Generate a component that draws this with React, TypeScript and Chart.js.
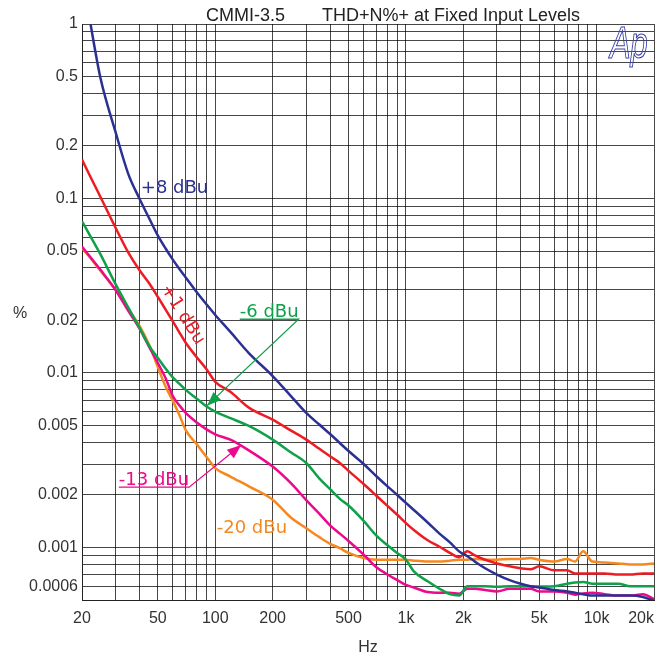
import React, { useEffect, useRef } from 'react';
import { Chart, registerables } from 'chart.js';

Chart.register(...registerables);

// ---------------- data ----------------
const frequencies = [
  20, 22, 25, 30, 35, 40, 45, 50, 55, 60,
  65, 70, 80, 90, 100, 120, 150, 200, 250, 300,
  350, 400, 450, 500, 600, 700, 800, 900, 1000, 1100,
  1300, 1500, 1700, 1900, 2100, 2300, 2600, 3000, 3500, 4000,
  4500, 5000, 6000, 7000, 7700, 8500, 9500, 11000, 13000, 15000,
  17500, 20000,
];

const plus8dBu = [
  1.95, 1.05, 0.49, 0.24, 0.138, 0.1, 0.077, 0.0612, 0.0515, 0.0445,
  0.0393, 0.0353, 0.029, 0.0247, 0.0215, 0.0172, 0.013, 0.0096, 0.00735, 0.0059,
  0.00508, 0.00447, 0.00397, 0.00357, 0.00301, 0.00256, 0.00224, 0.002, 0.0018, 0.00164,
  0.00139, 0.0012, 0.00107, 0.00095, 0.00089, 0.00083, 0.00076, 0.0007, 0.00065, 0.00062,
  0.0006, 0.00059, 0.00057, 0.00056, 0.00055, 0.00054, 0.00053, 0.00053, 0.00053, 0.00053,
  0.00052, 0.000495,
];

const plus1dBu = [
  0.167, 0.135, 0.102, 0.068, 0.049, 0.0389, 0.0327, 0.0273, 0.023, 0.0197,
  0.017, 0.0149, 0.0123, 0.0105, 0.0089, 0.0078, 0.00633, 0.0054, 0.00467, 0.00415,
  0.00369, 0.00333, 0.00305, 0.00275, 0.00231, 0.00198, 0.00173, 0.00154, 0.00138, 0.00126,
  0.0011, 0.00101, 0.00093, 0.00088, 0.00095, 0.0009, 0.00085, 0.00081, 0.00078, 0.00076,
  0.00075, 0.00078, 0.00074, 0.00074, 0.00071, 0.00071, 0.00071, 0.00071, 0.0007, 0.0007,
  0.00071, 0.00071,
];

const minus6dBu = [
  0.074, 0.0615, 0.0478, 0.0323, 0.0237, 0.0182, 0.0143, 0.0122, 0.01056, 0.0094,
  0.00865, 0.008, 0.00712, 0.00643, 0.006, 0.00551, 0.00497, 0.00415, 0.0035, 0.00305,
  0.0025, 0.00216, 0.0019, 0.00174, 0.00142, 0.00117, 0.00103, 0.00093, 0.00085, 0.00073,
  0.00064, 0.00058, 0.00054, 0.00053, 0.0006, 0.0006, 0.0006, 0.000595, 0.0006, 0.0006,
  0.0006, 0.000597, 0.0006, 0.00062, 0.00063, 0.000635, 0.00062, 0.00062, 0.00062, 0.0006,
  0.0006, 0.0006,
];

const minus13dBu = [
  0.053, 0.0465, 0.039, 0.0299, 0.0227, 0.018, 0.0141, 0.0114, 0.0093, 0.00734,
  0.0065, 0.0059, 0.0052, 0.00475, 0.00445, 0.00415, 0.0036, 0.00291, 0.00233, 0.00187,
  0.00157, 0.00134, 0.0012, 0.00109, 0.00091, 0.00077, 0.0007, 0.00065, 0.00061, 0.00059,
  0.000555, 0.00055, 0.00055, 0.000543, 0.00058, 0.00058, 0.00057, 0.00056, 0.00058, 0.00058,
  0.00058, 0.00056, 0.00056, 0.00055, 0.000536, 0.000545, 0.00055, 0.00054, 0.00053, 0.00053,
  0.00054, 0.000505,
];

const minus20dBu = [
  0.052, 0.046, 0.0385, 0.03, 0.0232, 0.0187, 0.0145, 0.0108, 0.0083, 0.0069,
  0.0057, 0.0047, 0.0039, 0.0033, 0.00285, 0.00255, 0.00224, 0.00188, 0.00148, 0.00129,
  0.00115, 0.00105, 0.00099, 0.00093, 0.00087, 0.00085, 0.00085, 0.00085, 0.00085, 0.00084,
  0.00083, 0.00083, 0.00084, 0.00085, 0.00085, 0.00086, 0.00085, 0.00085, 0.00086, 0.00086,
  0.00087, 0.00085, 0.00083, 0.00086, 0.00083, 0.00095, 0.00083, 0.00082, 0.00081, 0.0008,
  0.0008, 0.00081,
];

const seriesNames = ['+8 dBu', '+1 dBu', '-6 dBu', '-13 dBu', '-20 dBu'];

const xLabelValues = [20, 50, 100, 200, 500, 1000, 2000, 5000, 10000, 20000];
const xLabelTexts = ['20', '50', '100', '200', '500', '1k', '2k', '5k', '10k', '20k'];

const yLabelValues = [1, 0.5, 0.2, 0.1, 0.05, 0.02, 0.01, 0.005, 0.002, 0.001, 0.0006];
const yLabelTexts = ['1', '0.5', '0.2', '0.1', '0.05', '0.02', '0.01', '0.005', '0.002', '0.001', '0.0006'];

const titleModel = 'CMMI-3.5';
const titleText = 'THD+N%+ at Fixed Input Levels';
const xAxisTitle = 'Hz';
const yAxisTitle = '%';
const logoText = 'Ap';

// ---------------- styles ----------------
const BLUE = '#2b3192';
const RED = '#ed1c24';
const GREEN = '#0fa04a';
const MAGENTA = '#ec098c';
const ORANGE = '#f7881f';
const seriesColors = [BLUE, RED, GREEN, MAGENTA, ORANGE];
const seriesValues = [plus8dBu, plus1dBu, minus6dBu, minus13dBu, minus20dBu];

// curve annotations, placed in data coordinates (Hz, %)
const curveLabels = [
  { text: '+8 dBu', color: BLUE, at: [40.7, 0.1077] },
  { text: '+1 dBu', color: RED, at: [67.4, 0.0216], angle: 58 },
  { text: '-6 dBu', color: GREEN, at: [134.4, 0.021], arrowTo: [90.6, 0.0065] },
  { text: '-13 dBu', color: MAGENTA, at: [31.2, 0.00229], arrowTo: [136.8, 0.00386] },
  { text: '-20 dBu', color: ORANGE, at: [101.8, 0.00121] },
];

const TEXT_FONT = '"Liberation Sans", Arial, Helvetica, sans-serif';
const LABEL_FONT = '"DejaVu Sans", "Liberation Sans", sans-serif';

function near(a: number, b: number) {
  return Math.abs(a - b) <= Math.abs(b) * 1e-6;
}

function decadeTicks(min: number, max: number, eMin: number, eMax: number) {
  const out: number[] = [];
  for (let e = eMin; e <= eMax; e++) {
    for (let m = 1; m <= 9; m++) {
      const v = Number((m * Math.pow(10, e)).toPrecision(8));
      if (v >= min * (1 - 1e-9) && v <= max * (1 + 1e-9)) out.push(v);
    }
  }
  return out;
}

const decorPlugin = {
  id: 'decor',
  afterDatasetsDraw(chart: any) {
    const { ctx, scales } = chart;
    const xs = scales.x;
    const ys = scales.y;
    ctx.save();
    ctx.font = `18px ${LABEL_FONT}`;
    for (const lab of curveLabels as any[]) {
      const px = xs.getPixelForValue(lab.at[0]);
      const py = ys.getPixelForValue(lab.at[1]);
      ctx.fillStyle = lab.color;
      ctx.strokeStyle = lab.color;
      if (lab.angle) {
        ctx.save();
        ctx.translate(px, py);
        ctx.rotate((lab.angle * Math.PI) / 180);
        ctx.textAlign = 'center';
        ctx.textBaseline = 'middle';
        ctx.fillText(lab.text, 0, 0);
        ctx.restore();
        continue;
      }
      ctx.textAlign = 'left';
      ctx.textBaseline = 'alphabetic';
      ctx.fillText(lab.text, px, py);
      if (lab.arrowTo) {
        const w = ctx.measureText(lab.text).width;
        const uy = py + 2.5;
        const sx = px + w;
        const tx = xs.getPixelForValue(lab.arrowTo[0]);
        const ty = ys.getPixelForValue(lab.arrowTo[1]);
        ctx.lineWidth = 1.3;
        ctx.beginPath();
        ctx.moveTo(px, uy);
        ctx.lineTo(sx, uy);
        ctx.lineTo(tx, ty);
        ctx.stroke();
        const ang = Math.atan2(ty - uy, tx - sx);
        const L = 14;
        const H = 5.5;
        ctx.beginPath();
        ctx.moveTo(tx, ty);
        ctx.lineTo(tx - L * Math.cos(ang) + H * Math.sin(ang), ty - L * Math.sin(ang) - H * Math.cos(ang));
        ctx.lineTo(tx - L * Math.cos(ang) - H * Math.sin(ang), ty - L * Math.sin(ang) + H * Math.cos(ang));
        ctx.closePath();
        ctx.fill();
      }
    }
    ctx.restore();
  },
  afterDraw(chart: any) {
    const { ctx, chartArea } = chart;
    ctx.save();
    // title
    ctx.fillStyle = '#222';
    ctx.font = `18px ${TEXT_FONT}`;
    ctx.textAlign = 'left';
    ctx.textBaseline = 'alphabetic';
    ctx.fillText(titleModel, chartArea.left + 124, chartArea.top - 3);
    ctx.fillText(titleText, chartArea.left + 240, chartArea.top - 3);
    // y axis title (upright)
    ctx.font = `16px ${TEXT_FONT}`;
    ctx.fillStyle = '#333';
    ctx.textAlign = 'center';
    ctx.textBaseline = 'middle';
    ctx.fillText(yAxisTitle, chartArea.left - 62, (chartArea.top + chartArea.bottom) / 2 + 2);
    // logo
    ctx.save();
    ctx.translate(chartArea.right - 44, chartArea.top + 33.5);
    ctx.scale(0.7, 1);
    ctx.font = `italic 44px ${TEXT_FONT}`;
    ctx.textAlign = 'left';
    ctx.textBaseline = 'alphabetic';
    ctx.strokeStyle = '#3a3fa8';
    ctx.lineWidth = 1.2;
    ctx.strokeText(logoText, 0, 0);
    ctx.restore();
    ctx.restore();
  },
};

export default function App() {
  const canvasRef = useRef<HTMLCanvasElement | null>(null);

  useEffect(() => {
    const canvas = canvasRef.current;
    if (!canvas) return;
    const gridColor = 'rgba(0,0,0,0.72)';
    const chart = new Chart(canvas, {
      type: 'line',
      data: {
        datasets: seriesValues.map((vals, i) => ({
          label: seriesNames[i],
          data: frequencies.map((f, j) => ({ x: f, y: vals[j] })),
          borderColor: seriesColors[i],
          backgroundColor: seriesColors[i],
          borderWidth: 2.5,
          pointRadius: 0,
          cubicInterpolationMode: 'monotone' as const,
          fill: false,
        })),
      },
      options: {
        responsive: false,
        animation: false,
        events: [],
        layout: { padding: { top: 24, right: 16, left: 0, bottom: 0 } },
        plugins: {
          legend: { display: false },
          tooltip: { enabled: false },
          title: { display: false },
        },
        scales: {
          x: {
            type: 'logarithmic',
            min: 20,
            max: 20000,
            afterBuildTicks: (scale: any) => {
              // leading spacer tick so that "inner" alignment only right-aligns the last label
              const vals = [20, ...decadeTicks(20, 20000, 1, 4)];
              scale.ticks = vals.map((v) => ({ value: v }));
            },
            afterFit: (scale: any) => {
              scale.height = 61;
            },
            ticks: {
              autoSkip: false,
              maxRotation: 0,
              minRotation: 0,
              align: 'inner',
              padding: 9,
              color: '#333',
              font: { family: TEXT_FONT, size: 16 },
              callback: (value: any, index: number) => {
                if (index === 0) return '';
                const k = xLabelValues.findIndex((v) => near(Number(value), v));
                return k >= 0 ? xLabelTexts[k] : '';
              },
            },
            grid: { color: gridColor, lineWidth: 1, drawTicks: false },
            border: { display: true, color: '#222', width: 1 },
            title: {
              display: true,
              text: xAxisTitle,
              color: '#333',
              font: { family: TEXT_FONT, size: 16 },
              padding: { top: 0, bottom: 4 },
            },
          },
          y: {
            type: 'logarithmic',
            min: 0.0005,
            max: 1,
            afterBuildTicks: (scale: any) => {
              scale.ticks = decadeTicks(0.0005, 1, -4, 0).map((v) => ({ value: v }));
            },
            afterFit: (scale: any) => {
              scale.width = 82;
            },
            ticks: {
              autoSkip: false,
              padding: 4,
              color: '#333',
              font: { family: TEXT_FONT, size: 16 },
              callback: (value: any) => {
                const k = yLabelValues.findIndex((v) => near(Number(value), v));
                return k >= 0 ? yLabelTexts[k] : '';
              },
            },
            grid: { color: gridColor, lineWidth: 1, drawTicks: false },
            border: { display: true, color: '#222', width: 1 },
          },
        },
      },
      plugins: [decorPlugin],
    } as any);
    return () => chart.destroy();
  }, []);

  return (
    <div style={{ position: 'absolute', left: 0, top: 0, width: 670, height: 661, background: '#fff' }}>
      <canvas ref={canvasRef} width={670} height={661} style={{ display: 'block' }} />
    </div>
  );
}
